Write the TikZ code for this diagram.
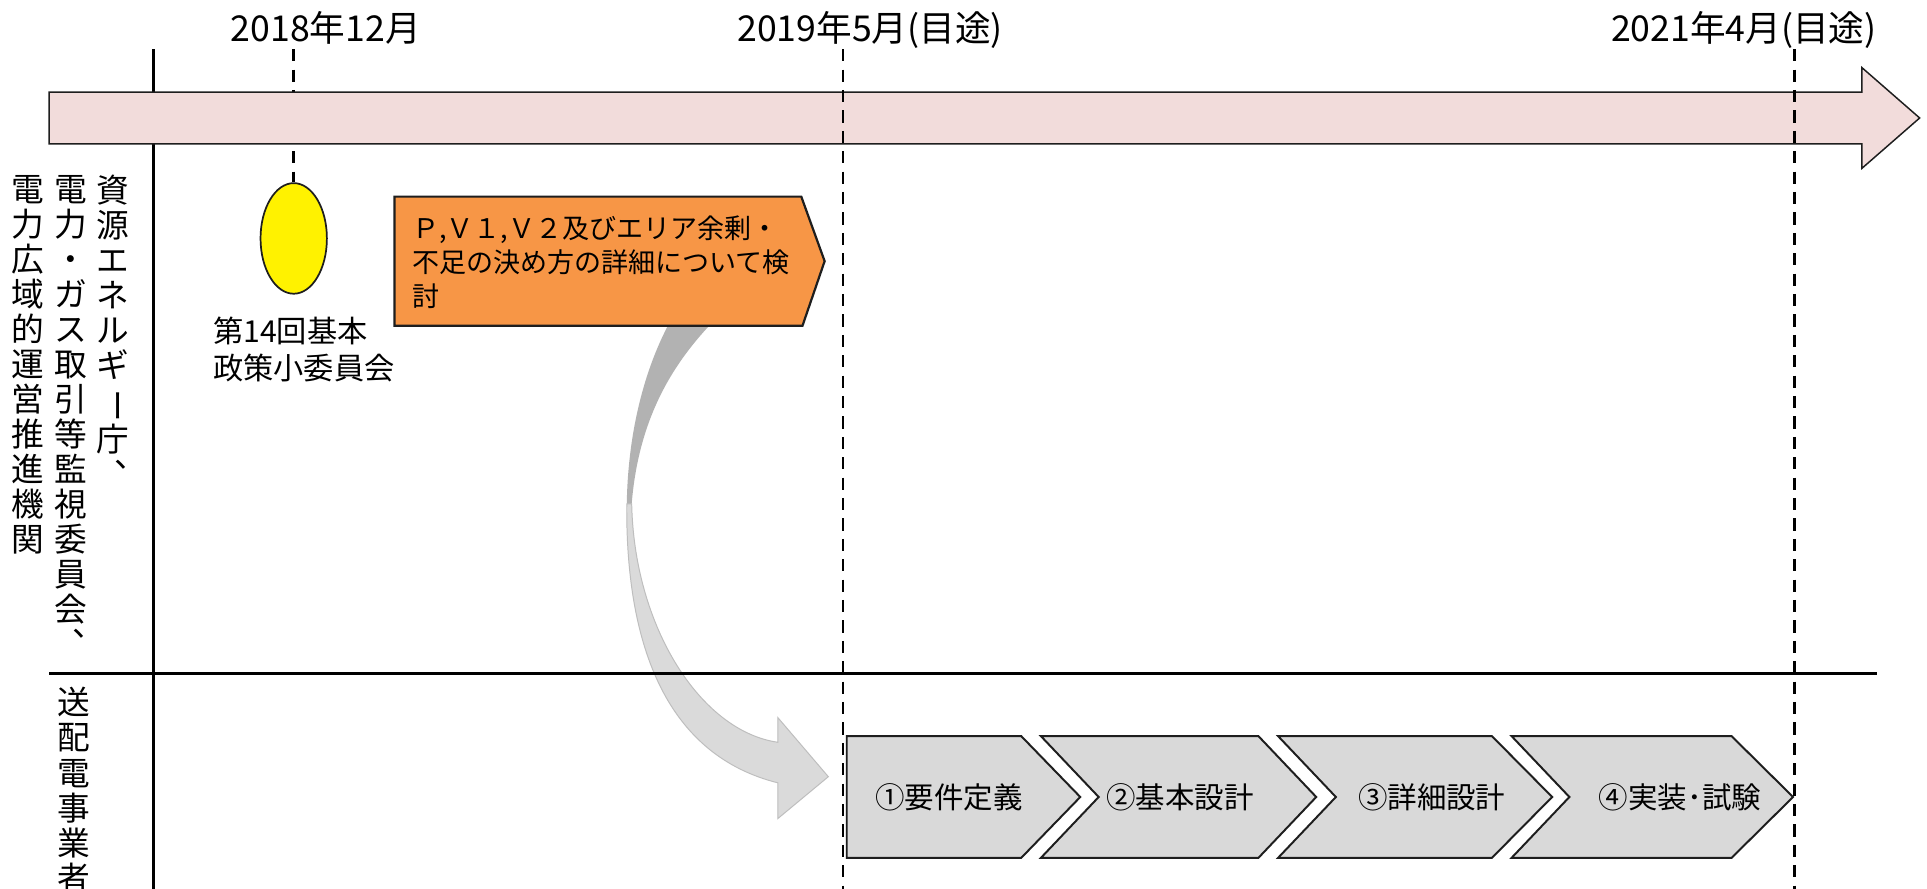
\documentclass[tikz,border=0pt]{standalone}
\usepackage{graphicx}
\usepackage{fontspec}
\newfontfamily\jp{Noto Sans CJK JP}
\usetikzlibrary{shapes.geometric}
\definecolor{pinkfill}{RGB}{242,220,219}
\definecolor{orangefill}{RGB}{247,150,70}
\definecolor{chevfill}{RGB}{217,217,217}
\definecolor{carrowdark}{RGB}{178,178,178}
\definecolor{carrowlight}{RGB}{218,218,218}
\definecolor{carrowedge}{RGB}{190,190,190}
\definecolor{outline}{RGB}{30,30,30}
\newcommand{\vchoon}{\rotatebox[origin=c]{-90}{ー}}
\newcommand{\vtouten}{\makebox[1em][l]{\hspace*{0.55em}\raisebox{0.6em}{、}}}
\begin{document}
\begin{tikzpicture}[x=0.5pt,y=-0.5pt,
  datelabel/.style={font=\jp\fontsize{14.5}{17}\selectfont, anchor=base, inner sep=0pt},
  dashline/.style={line width=1pt, dash pattern=on 5pt off 3.3pt},
  frameline/.style={line width=1.1pt},
  vlabel/.style={font=\jp\fontsize{13.3}{14.25}\selectfont, align=center, anchor=north, inner sep=0pt},
  smalltext/.style={font=\jp\fontsize{12.3}{15}\selectfont, anchor=base west, inner sep=0pt},
  orangetext/.style={font=\jp\fontsize{11}{13.5}\selectfont, anchor=base west, inner sep=0pt},
  chevbox/.style={draw=outline, line width=0.8pt, fill=chevfill, line join=miter},
  chevtext/.style={font=\jp\fontsize{12}{14}\selectfont, inner sep=0pt},
]
\useasboundingbox[fill=white] (0,0) rectangle (1568,723);

% date labels
\node[datelabel] (d18) at (265,34) {2018年12月};
\node[datelabel] (d19) at (708,34) {2019年5月(目途)};
\node[datelabel] (d21) at (1419,34) {2021年4月(目途)};

% meeting ellipse and its dashed line
\node[ellipse, draw=outline, line width=0.7pt, fill=yellow, minimum width=27pt, minimum height=45pt, inner sep=0pt] (mtg) at (239,194) {};
\coordinate (v18top) at (239,40);
\draw[dashline] (v18top) -- (mtg.north);

% frame line
\coordinate (frtop) at (125,40);
\coordinate (frbot) at (125,723);
\draw[frameline] (frtop) -- (frbot);

% timeline arrow
\draw[fill=pinkfill, draw=outline, line width=0.6pt, line join=miter]
  (40,75) -- (1515,75) -- (1515,55) -- (1562,96) -- (1515,137) -- (1515,117) -- (40,117) -- cycle;

% curved gray arrow
\fill[carrowdark]
  (544,264) .. controls (525,300) and (511,350) .. (510,410)
  -- (514,410) .. controls (520,335) and (552,292) .. (578,264) -- cycle;
\path[draw=carrowedge, line width=0.4pt, fill=carrowlight, line join=miter]
  (510,410) .. controls (509,530) and (545,615) .. (633,637)
  -- (633,666) -- (674,632) -- (633,584) -- (633,604)
  .. controls (570,595) and (516,510) .. (514,410) -- cycle;

% horizontal separator
\coordinate (hl) at (40,548);
\coordinate (hr) at (1527,548);
\draw[frameline] (hl) -- (hr);

% dashed milestone lines
\coordinate (v19top) at (686,40);
\coordinate (v19bot) at (686,723);
\coordinate (v21top) at (1460,40);
\coordinate (v21bot) at (1460,723);
\draw[dashline] (v19top) -- (v19bot);
\draw[dashline] (v21top) -- (v21bot);

% meeting label
\node[smalltext] (mtg1) at (173,279) {第14回基本};
\node[smalltext] (mtg2) at (173,309) {政策小委員会};

% orange task
\draw[fill=orangefill, draw=outline, line width=0.9pt, line join=miter]
  (321,160) -- (652,160) -- (671,212.5) -- (653,265) -- (321,265) -- cycle;
\node[orangetext] (o1) at (335,194) {Ｐ,Ｖ１,Ｖ２及びエリア余剰・};
\node[orangetext] (o2) at (335,222) {不足の決め方の詳細について検};
\node[orangetext] (o3) at (335,249) {討};

% vertical labels
\node[vlabel] (lab1) at (92,142) {資\\源\\エ\\ネ\\ル\\ギ\\\vchoon\\庁\\\vtouten};
\node[vlabel] (lab2) at (58,142) {電\\力\\・\\ガ\\ス\\取\\引\\等\\監\\視\\委\\員\\会\\\vtouten};
\node[vlabel] (lab3) at (23,142) {電\\力\\広\\域\\的\\運\\営\\推\\進\\機\\関};
\node[vlabel] (lab4) at (60,559) {送\\配\\電\\事\\業\\者};

% chevrons
\draw[chevbox] (689,599) -- (831,599) -- (879,648.5) -- (831,698) -- (689,698) -- cycle;
\draw[chevbox] (847,599) -- (1024,599) -- (1071,648.5) -- (1024,698) -- (847,698) -- (894,648.5) -- cycle;
\draw[chevbox] (1040,599) -- (1214,599) -- (1263,648.5) -- (1214,698) -- (1040,698) -- (1087,648.5) -- cycle;
\draw[chevbox] (1230,599) -- (1409,599) -- (1459,648.5) -- (1409,698) -- (1230,698) -- (1277,648.5) -- cycle;
\node[chevtext] (c1) at (772,649) {①要件定義};
\node[chevtext] (c2) at (960,649) {②基本設計};
\node[chevtext] (c3) at (1165,649) {③詳細設計};
\node[chevtext] (c4) at (1367,649) {④実装･試験};
\end{tikzpicture}
\end{document}
